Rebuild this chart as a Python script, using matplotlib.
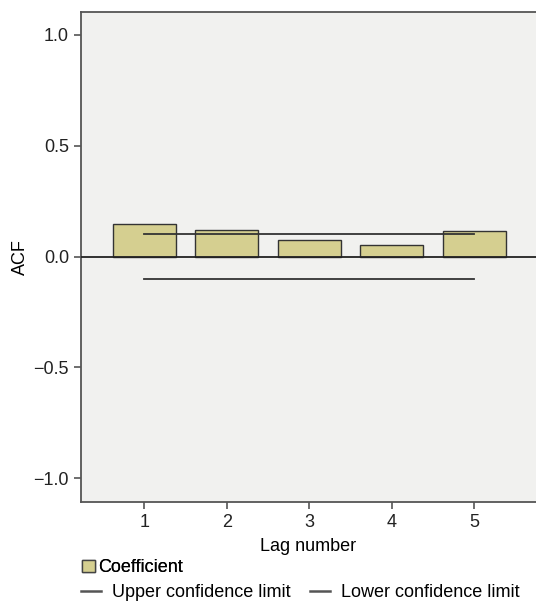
import matplotlib.pyplot as plt
from matplotlib.patches import Patch
from matplotlib.lines import Line2D

plt.rcParams['font.family'] = ['Liberation Sans', 'DejaVu Sans']

lags = [1, 2, 3, 4, 5]
acf = [0.145, 0.118, 0.073, 0.054, 0.117]
upper = [0.100, 0.100, 0.100, 0.100, 0.100]
lower = [-0.099, -0.099, -0.099, -0.099, -0.099]
yticks = [-1.0, -0.5, 0.0, 0.5, 1.0]
ytick_labels = ['\u22121.0', '\u22120.5', '0.0', '0.5', '1.0']

fig = plt.figure(figsize=(5.36, 6.02), dpi=100)
ax = fig.add_axes([0.1506, 0.1661, 0.8494, 0.8145])
ax.set_facecolor('#f1f1ef')

ax.bar(lags, acf, width=0.765, color='#d5cf90', edgecolor='#333333', linewidth=1.0, zorder=2)
ax.plot(lags, upper, color='#333333', linewidth=1.3, zorder=3)
ax.plot(lags, lower, color='#333333', linewidth=1.3, zorder=3)
ax.axhline(0, color='#222222', linewidth=1.3, zorder=4)

ax.set_xlim(0.228, 5.75)
ax.set_ylim(-1.107, 1.105)
ax.set_xticks(lags)
ax.set_yticks(yticks)
ax.set_yticklabels(ytick_labels)
ax.tick_params(axis='both', labelsize=13, length=5, width=1.2, color='#555555', labelcolor='#222222')

for s in ['left', 'bottom', 'top']:
    ax.spines[s].set_color('#555555')
    ax.spines[s].set_linewidth(1.3)
ax.spines['right'].set_visible(False)

ax.set_xlabel('Lag number', fontsize=13, labelpad=5)
ax.set_ylabel('ACF', fontsize=13, labelpad=3)

leg1 = fig.legend(handles=[Patch(facecolor='#d5cf90', edgecolor='#444444', label='Coefficient')],
                  loc='upper left', bbox_to_anchor=(0.14, 0.083), frameon=False, fontsize=13,
                  handlelength=0.7, handleheight=0.7, handletextpad=0.2, borderaxespad=0)
fig.add_artist(leg1)
fig.legend(handles=[Line2D([], [], color='#555555', lw=1.8, label='Upper confidence limit'),
                    Line2D([], [], color='#555555', lw=1.8, label='Lower confidence limit')],
           loc='upper left', bbox_to_anchor=(0.138, 0.042), ncol=2, frameon=False, fontsize=13,
           handlelength=1.1, handletextpad=0.6, columnspacing=1.1, borderaxespad=0)

plt.savefig('out.png', dpi=100)
